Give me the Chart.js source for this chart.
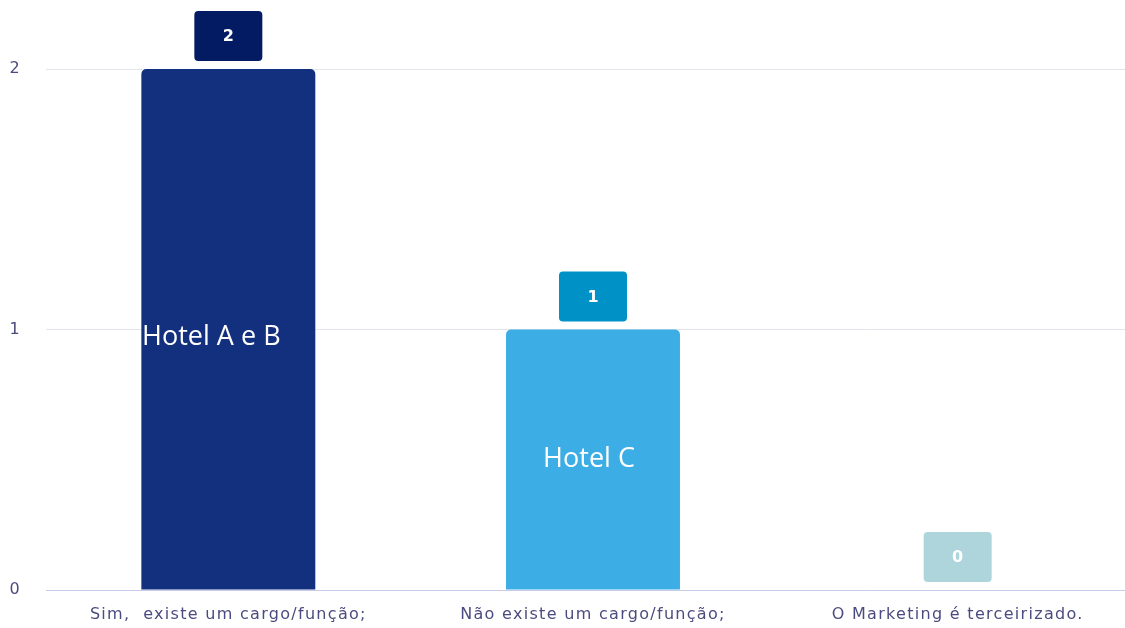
<!DOCTYPE html>
<html><head><meta charset="utf-8">
<script src="https://cdn.jsdelivr.net/npm/chart.js@4.4.0/dist/chart.umd.min.js"></script>
<style>html,body{margin:0;padding:0;overflow:hidden;background:#fff;width:1125px;height:628px}#wrap{width:1140px;height:628px}</style>
</head><body><div id="wrap"><canvas id="c" width="1140" height="628"></canvas></div>
<script>
const categories = ["Sim,  existe um cargo/função;", "Não existe um cargo/função;", "O Marketing é terceirizado."];
const values = [2, 1, 0];
const barColors = ["#13307f", "#3caee5", "#b7dbe3"];
const boxColors = ["#021b62", "#0091c7", "#aed4dc"];
const hotelLabels = ["Hotel A e B", "Hotel C", ""];
const hotelLabelValues = [0.97, 0.5, 0];
const yTicks = [0, 1, 2];

const spacing = {
  id: 'spacing',
  beforeDraw(chart) { chart.ctx.letterSpacing = '1.3px'; },
  beforeDatasetsDraw(chart) { chart.ctx.letterSpacing = '0px'; }
};

const overlay = {
  id: 'overlay',
  afterDatasetsDraw(chart) {
    const ctx = chart.ctx;
    const meta = chart.getDatasetMeta(0);
    const ys = chart.scales.y;
    meta.data.forEach((bar, i) => {
      const w = 68, h = 50;
      const bx = bar.x - w / 2, by = bar.y - 8 - h;
      ctx.save();
      ctx.letterSpacing = '0px';
      ctx.fillStyle = boxColors[i];
      ctx.beginPath();
      ctx.roundRect(bx, by, w, h, 4);
      ctx.fill();
      ctx.fillStyle = '#ffffff';
      ctx.font = 'bold 16px "DejaVu Sans", sans-serif';
      ctx.textAlign = 'center';
      ctx.textBaseline = 'middle';
      ctx.fillText(String(values[i]), bar.x, by + h / 2 + 1);
      if (hotelLabels[i]) {
        ctx.font = '27px "Open Sans", sans-serif';
        ctx.fillText(hotelLabels[i], bar.x + (i === 0 ? -17 : -4), ys.getPixelForValue(hotelLabelValues[i]));
      }
      ctx.restore();
    });
  }
};

new Chart(document.getElementById('c'), {
  type: 'bar',
  data: {
    labels: categories,
    datasets: [{
      data: values,
      backgroundColor: barColors,
      borderRadius: { topLeft: 5, topRight: 5, bottomLeft: 0, bottomRight: 0 },
      borderSkipped: 'bottom',
      categoryPercentage: 1,
      barPercentage: 0.477
    }]
  },
  options: {
    responsive: false,
    animation: false,
    layout: { padding: { top: 69, right: 0, left: 0, bottom: 0 } },
    plugins: { legend: { display: false }, tooltip: { enabled: false } },
    scales: {
      x: {
        grid: { display: false, drawTicks: false },
        border: { display: true, color: '#c9cbe9', width: 1 },
        afterFit(axis) { axis.height = 38; },
        ticks: { color: '#4b4b80', font: { family: '"DejaVu Sans", sans-serif', size: 16 }, padding: 15, maxRotation: 0 }
      },
      y: {
        min: 0, max: 2,
        afterBuildTicks(axis) { axis.ticks = yTicks.map(v => ({ value: v })); },
        afterFit(axis) { axis.width = 46; },
        grid: { color: '#e4e4ea', drawTicks: false },
        border: { display: false },
        ticks: { color: '#4b4b80', font: { family: '"DejaVu Sans", sans-serif', size: 16 }, padding: 25, stepSize: 1 }
      }
    }
  },
  plugins: [spacing, overlay]
});
</script></body></html>
